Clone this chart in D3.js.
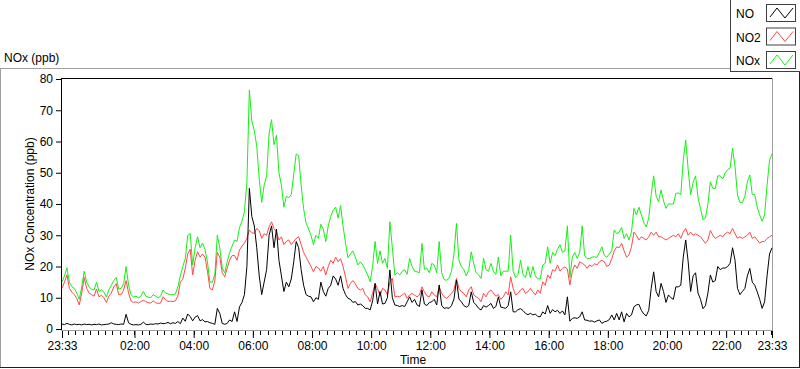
<!DOCTYPE html>
<html>
<head>
<meta charset="utf-8">
<script src="https://d3js.org/d3.v7.min.js"></script>
<style>
  body { margin: 0; background: #ffffff; }
  text { font-family: "Liberation Sans", Arial, sans-serif; font-size: 12px; fill: #000; }
</style>
</head>
<body>
<div id="chart"></div>
<script>
// samples every 5 minutes, starting 23:33
var startTime = new Date(2000, 0, 1, 23, 33);
var stepMinutes = 5;

var seriesNames = ["NO", "NO2", "NOx"];
var seriesColors = ["#000000", "#ff4848", "#14f014"];

var noValues = [
  1.6,1.4,1.8,1.5,1.3,1.6,1.4,1.5,1.3,1.6,
  1.4,1.5,1.3,1.5,1.4,1.6,1.3,1.4,1.5,1.6,
  2.0,1.6,1.5,1.4,1.6,1.5,4.7,2.0,1.5,1.3,
  1.4,1.3,1.5,2.2,1.5,1.4,1.6,1.5,1.7,1.6,
  1.9,1.7,1.8,2.1,1.7,2.0,1.8,2.4,1.7,3.5,
  2.5,4.8,4.0,2.6,3.8,4.3,2.6,3.0,2.3,
  2.4,2.0,1.8,1.5,6.6,5.0,1.8,1.5,1.8,2.9,
  2.4,5.5,2.4,7.1,8.5,11,20,45,36,33,
  26,17,11,15,19,30,33,26,32,22,
  17,12,15,13.5,16,21.5,28,26,19,14,
  11,10.5,10.3,8.7,10,9.5,15,12,10.5,13,
  14,17,16,14,17,13,11,9.8,
  9.5,8.5,8.8,7.7,8,7.5,6.6,6.6,6.1,9,
  14.6,8,12,8,8.2,10,18.9,10,7.7,7.5,
  7.2,7.5,7.2,8.7,10.3,8.5,9.5,7.7,7.2,12.5,
  8,7.5,8.5,8.7,9.5,7.7,14.1,7.6,6.6,6.8,
  6.6,7.5,9.6,15.7,9.6,8.7,7.5,7.0,7.5,11.9,
  8.5,7.7,6.6,6.1,7.5,7.0,7.5,8.2,
  6.6,7.2,10.3,7,6.8,6.6,7.5,11.9,5.5,5.5,
  6.2,6.5,5.9,5.0,4.6,5.0,4.5,4.8,4.0,3.9,
  5.5,4.8,7.5,5.0,6.2,5.5,6.0,5.0,5.8,4.5,
  10.3,2.5,3.4,3.6,3.4,3.9,5.5,2.9,2.8,2.5,
  2.6,2.2,2.6,2.9,1.8,2.3,2.5,3.0,4.5,2.9,
  5.0,2.9,5.5,2.3,5.0,3.9,4.5,7.1,
  7.7,7.9,6.0,4.8,4.2,6.0,13,18.3,12,10.3,
  14.6,12,8.5,10.9,10,9.5,13.5,13.5,14,23,
  28.5,21.5,12,17,18,11.5,9.5,6.5,7.5,11.5,
  17.3,15,15.5,20,19,19.5,19.5,20,21,26,
  22,13,11,12,13,17,19.4,15,14,11.9,
  9.5,6.6,8.7,17,24,26
];

var no2Values = [
  13,15,17.3,13,11.8,11,9.8,7.7,11.5,16.5,
  13,11.5,11,10.5,12.8,10.3,10.8,10,8.5,10.5,
  11.5,13.5,14.5,11,11,12.5,15.5,11.5,9,8.5,
  8.7,8.3,8.8,9.2,8.8,8.4,8.3,9,8.4,8.2,
  8.3,10.3,9.4,8.8,8.9,8.8,9,10.5,15,16,
  19.4,24,25.5,17.3,22,24.7,23,24,23,
  18.5,13,12.5,15.5,24.5,23,18,16.7,19.5,22,
  23.5,23.5,22,25.3,26.5,27.5,29,31.7,30.8,30.6,
  32.2,31.5,29,30.5,30,32.7,34.3,32.2,31,28.5,
  29.5,27,28,28.5,27,28,29,29.5,27,24.5,
  23,21.5,20,18.3,20,19.5,18.5,20,17.3,20,
  22,21,23,21.5,22.5,20,16.7,13,
  14.6,15.5,14.5,13,12.5,13,10.9,10.3,8.7,11.5,
  14.5,13,10.5,13,12.5,10.9,15,16.2,10.3,10.5,
  10.3,10.9,11.5,9.8,10.9,11.4,10.9,10.3,10.9,13.5,
  11.9,10.6,10.3,11.9,10.9,10.3,13.5,11.4,10.3,9.8,
  10.6,11.4,12.5,16.2,13,11.9,11.4,10.3,12.5,13.5,
  10.9,10.3,9.8,8.7,11.4,10.3,11.9,12.5,
  11.5,10.5,11,9.5,10.3,11.9,10.9,16.7,13,10.9,
  11.4,12.5,13,11.4,11.9,13,11.9,10.9,12.5,11.4,
  15.1,14,17.3,16.2,19,18.5,20.5,18.5,19.4,19.8,
  19.2,14.1,18.5,20.5,19.4,21.5,21,20.5,19.4,20.5,
  20,20.9,20.5,21.5,22,21.5,20,20.5,22.5,25,
  26.3,26,27.4,25,23,23.7,26.3,31,
  30,28.5,29.5,29,28.5,29.5,31,30,31,29.5,
  29.5,29,28.5,29,29.5,30,29.5,30.5,29,31,
  32.2,30,31,30,30.5,30,29.5,28.5,27.4,28.5,
  31.5,30,29,29.5,30,29.5,30.5,31,30.5,32.2,
  30.5,29,29.5,29,29.5,30,31,29,29.5,28.5,
  27.5,28,28,29,29.5,30
];

var noxValues = [
  15,17,19.6,15,13.5,13,11.5,9.5,13.5,18.5,
  15,13.5,12.7,12.5,15,12,12.5,11.8,10.2,12.5,
  14,15.5,16.5,12.8,13,14.5,20,14,11,10.2,
  10.5,10,10.5,12,10.5,10.2,10,11,10.5,10,
  10.5,12.5,11.5,11.2,11,11,11.2,13.5,17,20,
  22.5,30,30.5,20.5,26,29.5,26,27.5,25.5,
  21.5,15,15,17.5,30,26,19.5,18,21.5,24.5,
  26.5,28.5,28,32.5,34.5,37.5,47,76.5,66.5,63.5,
  58.5,48,40.5,46,49,62.5,67,59,62,50,
  46,39,42.5,42,43,49.5,56,55.5,46,38.5,
  34,32,30,27,30,29,33.5,32,28,33,
  36,38,39,35.5,39.5,33,27.5,22.8,
  24,25,23,20.5,21.5,20.5,19,17.3,15.1,20,
  28,21,25,21,22.6,19.4,34.3,26,17.3,18,
  17.3,18.5,19,17.5,22.6,20,18.5,18.3,18,27.4,
  19,19.5,18,21,20.5,18,28,18,15.8,15.6,
  16.2,18.5,24,33.8,22,20,19,17,19,24.7,
  21,18,17.3,16.2,22.6,19,18.5,21,
  18.5,17.5,23,17,18.5,18.5,18.5,30,18.5,16.5,
  17.5,22,17.5,16.5,20,16.5,20,17,16,16,
  20.5,21,26.3,21,24.5,23.5,25.5,27,24.5,25,
  33,16.5,23,24.5,22.6,24.5,33,23.5,22.5,22.6,
  23,23.1,22.9,24.5,26.3,23.5,23,24,25,31.7,
  30.5,31,32.5,29,30.5,28.5,31,38.6,
  36.5,39,36.5,34,32.7,35.5,43,49,42.5,40.7,
  44.5,41,38.6,40,40,40,43.4,43.5,43,54,
  60.5,51,43,47,49,42,38.5,35,35.5,40,
  47.1,45,45,49,49,48,50,51,51.5,57.8,
  52,42.9,40.5,40.5,42.5,47,49.3,43,43,39,
  36.5,34.5,36.5,46,54,56
];

var yTickValues = [0, 10, 20, 30, 40, 50, 60, 70, 80];
var xTickLabels = ["23:33", "02:00", "04:00", "06:00", "08:00", "10:00", "12:00",
                   "14:00", "16:00", "18:00", "20:00", "22:00", "23:33"];

var width = 800, height = 369;
var plot = {left: 62, right: 772, top: 79, bottom: 329};

var svg = d3.select("#chart").append("svg")
  .attr("width", width)
  .attr("height", height);

var endTime = d3.timeMinute.offset(startTime, 24 * 60);

var x = d3.scaleTime()
  .domain([startTime, endTime])
  .range([plot.left, plot.right]);

var y = d3.scaleLinear()
  .domain([0, 80])
  .range([plot.bottom, plot.top]);

// panel frame (3D look)
svg.append("line").attr("x1", 0).attr("x2", 731).attr("y1", 68.5).attr("y2", 68.5)
  .style("stroke", "#a0a0a0");
svg.append("line").attr("x1", 0.5).attr("x2", 0.5).attr("y1", 68).attr("y2", 368)
  .style("stroke", "#a0a0a0");
svg.append("line").attr("x1", 0).attr("x2", 800).attr("y1", 367.5).attr("y2", 367.5)
  .style("stroke", "#202020");
svg.append("line").attr("x1", 799.5).attr("x2", 799.5).attr("y1", 68).attr("y2", 368)
  .style("stroke", "#202020");

svg.append("text")
  .attr("x", 4).attr("y", 62)
  .text("NOx (ppb)");

// plot frame
svg.append("line").attr("x1", plot.left - 0.5).attr("x2", plot.right + 1).attr("y1", plot.top - 0.5).attr("y2", plot.top - 0.5)
  .style("stroke", "#000");
svg.append("line").attr("x1", plot.left - 0.5).attr("x2", plot.left - 0.5).attr("y1", plot.top - 1).attr("y2", plot.bottom + 1.5)
  .style("stroke", "#000");
svg.append("line").attr("x1", plot.right + 0.5).attr("x2", plot.right + 0.5).attr("y1", plot.top - 1).attr("y2", plot.bottom + 2)
  .style("stroke", "#a0a0a0");
svg.append("line").attr("x1", plot.left - 1).attr("x2", plot.right + 1).attr("y1", plot.bottom + 1.5).attr("y2", plot.bottom + 1.5)
  .style("stroke", "#a0a0a0");

// y axis
var yAxis = svg.append("g")
  .attr("transform", "translate(" + (plot.left - 1) + ",0)")
  .call(d3.axisLeft(y).tickValues(yTickValues).tickSize(5).tickPadding(3));
yAxis.select(".domain").remove();
yAxis.selectAll("line").style("stroke", "#000");
yAxis.selectAll("text").style("font-size", "12px").style("font-family", "'Liberation Sans', Arial, sans-serif");

svg.append("text")
  .attr("transform", "translate(34," + ((plot.top + plot.bottom) / 2) + ") rotate(-90)")
  .style("text-anchor", "middle")
  .text("NOx Concentration (ppb)");

// x axis: labelled ticks from the label list (first label on day 1, the rest on day 2)
var majorTimes = xTickLabels.map(function(lbl, i) {
  var hm = lbl.split(":");
  return new Date(2000, 0, i === 0 ? 1 : 2, +hm[0], +hm[1]);
});
var minorTimes = d3.timeMinute.every(15).range(startTime, endTime);

var xAxisY = plot.bottom + 2;
svg.append("g").selectAll("line")
  .data(minorTimes)
  .enter().append("line")
    .attr("x1", function(d) { return Math.round(x(d)) + 0.5; })
    .attr("x2", function(d) { return Math.round(x(d)) + 0.5; })
    .attr("y1", xAxisY)
    .attr("y2", xAxisY + 4)
    .style("stroke", "#000");

var xAxis = svg.append("g")
  .attr("transform", "translate(0," + xAxisY + ")")
  .call(d3.axisBottom(x).tickValues(majorTimes).tickSize(7).tickPadding(3)
    .tickFormat(function(d, i) { return xTickLabels[i]; }));
xAxis.select(".domain").remove();
xAxis.selectAll("line").style("stroke", "#000");
xAxis.selectAll("text").style("font-size", "12px").style("font-family", "'Liberation Sans', Arial, sans-serif");

svg.append("text")
  .attr("x", 413)
  .attr("y", 364)
  .style("text-anchor", "middle")
  .text("Time");

// lines
var allSeries = [noValues, no2Values, noxValues];
var line = d3.line()
  .x(function(d, i) { return x(d3.timeMinute.offset(startTime, i * stepMinutes)); })
  .y(function(d) { return y(d); });

var plotArea = svg.append("g");
[2, 1, 0].forEach(function(k) {
  plotArea.append("path")
    .datum(allSeries[k])
    .attr("d", line)
    .style("fill", "none")
    .style("stroke", seriesColors[k])
    .style("stroke-width", 1);
});

// legend
var legend = svg.append("g");
legend.append("rect")
  .attr("x", 730.5).attr("y", -1)
  .attr("width", 71).attr("height", 72.5)
  .style("fill", "#fff")
  .style("stroke", "#404040");

seriesNames.forEach(function(name, k) {
  var top = 4 + k * 23.5;
  legend.append("text")
    .attr("x", 736).attr("y", top + 14)
    .text(name);
  legend.append("rect")
    .attr("x", 766.5).attr("y", top + 0.5)
    .attr("width", 29).attr("height", 17)
    .style("fill", "#fff")
    .style("stroke", "#404040");
  legend.append("polyline")
    .attr("points", [[770, top + 13], [777, top + 4], [785, top + 14], [793, top + 4]].join(" "))
    .style("fill", "none")
    .style("stroke", seriesColors[k]);
});
</script>
</body>
</html>
